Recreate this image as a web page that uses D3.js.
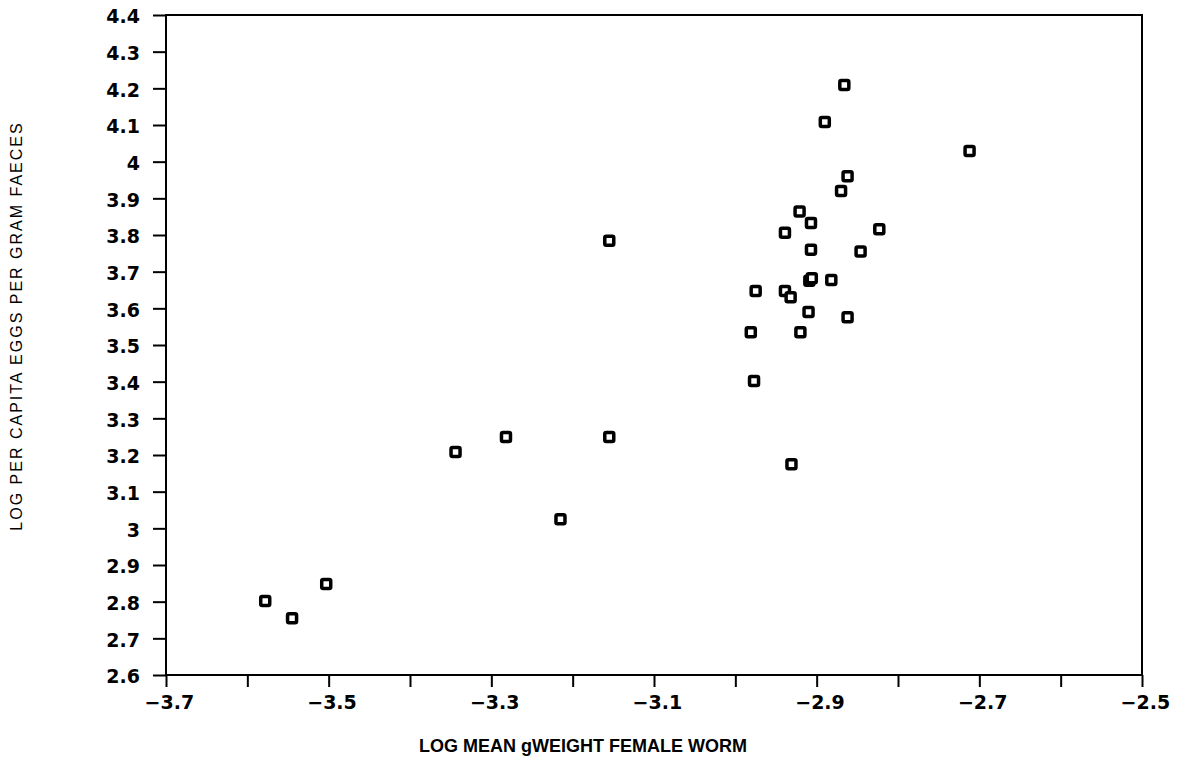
<!DOCTYPE html>
<html>
<head>
<meta charset="utf-8">
<script src="https://cdn.jsdelivr.net/npm/d3@7"></script>
<style>
  body { margin: 0; background: #fff; }
  svg { display: block; }
</style>
</head>
<body>
<div id="chart"></div>
<script>
// log mean female worm weight vs log eggs per gram faeces
const logWeight = [-3.578, -3.545, -3.503, -3.344, -3.282, -3.215, -3.155, -3.155,
  -2.981, -2.977, -2.975, -2.939, -2.932, -2.939, -2.921, -2.907, -2.907, -2.909,
  -2.906, -2.910, -2.920, -2.931, -2.882, -2.870, -2.862, -2.862, -2.846, -2.823,
  -2.890, -2.866, -2.712];
const logEggs = [2.802, 2.755, 2.848, 3.208, 3.249, 3.025, 3.784, 3.249,
  3.535, 3.402, 3.647, 3.647, 3.630, 3.806, 3.864, 3.833, 3.760, 3.675,
  3.682, 3.590, 3.535, 3.175, 3.677, 3.920, 3.960, 3.576, 3.755, 3.816,
  4.108, 4.209, 4.029];
const xDomain = [-3.7, -2.5];
const yDomain = [2.6, 4.4];
const xTitle = "LOG MEAN gWEIGHT FEMALE WORM";
const yTitle = "LOG PER CAPITA EGGS PER GRAM FAECES";

const width = 1185, height = 766;
const margin = {top: 15, right: 43, bottom: 91, left: 166};

const svg = d3.select("#chart").append("svg")
    .attr("width", width)
    .attr("height", height);

const x = d3.scaleLinear().domain(xDomain).range([margin.left, width - margin.right]);
const y = d3.scaleLinear().domain(yDomain).range([height - margin.bottom, margin.top]);

const xTicks = d3.range(0, 13).map(i => +(xDomain[0] + i * 0.1).toFixed(1));
const yTicks = d3.range(0, 19).map(i => +(yDomain[0] + i * 0.1).toFixed(1));

const tickFont = "bold 19px 'DejaVu Sans', sans-serif";

// x axis
const gx = svg.append("g")
    .attr("transform", `translate(0,${height - margin.bottom})`)
    .call(d3.axisBottom(x)
      .tickValues(xTicks)
      .tickSize(12)
      .tickPadding(9)
      .tickFormat((d, i) => i % 2 === 0 ? d3.format(".1f")(d) : ""));
gx.select(".domain").remove();
gx.selectAll(".tick line").attr("stroke", "#000").attr("stroke-width", 2);
gx.selectAll(".tick text").style("font", tickFont).attr("fill", "#000").attr("dx", "0.15em");

// y axis
const gy = svg.append("g")
    .attr("transform", `translate(${margin.left},0)`)
    .call(d3.axisLeft(y)
      .tickValues(yTicks)
      .tickSize(13)
      .tickPadding(13)
      .tickFormat(d => String(d)));
gy.select(".domain").remove();
gy.selectAll(".tick line").attr("stroke", "#000").attr("stroke-width", 2);
gy.selectAll(".tick text").style("font", tickFont).attr("fill", "#000").attr("dy", "0.42em");

// frame
svg.append("rect")
    .attr("x", x(xDomain[0]))
    .attr("y", y(yDomain[1]))
    .attr("width", x(xDomain[1]) - x(xDomain[0]))
    .attr("height", y(yDomain[0]) - y(yDomain[1]))
    .attr("fill", "none")
    .attr("stroke", "#000")
    .attr("stroke-width", 2);

// points
const pts = logWeight.map((v, i) => [v, logEggs[i]]);
svg.append("g")
  .selectAll("rect")
  .data(pts)
  .join("rect")
    .attr("x", d => x(d[0]) - 4.5)
    .attr("y", d => y(d[1]) - 4.5)
    .attr("width", 9)
    .attr("height", 9)
    .attr("rx", 1.5)
    .attr("fill", "#fff")
    .attr("stroke", "#000")
    .attr("stroke-width", 3.5);

// titles
svg.append("text")
    .attr("x", 583)
    .attr("y", 752)
    .attr("text-anchor", "middle")
    .style("font", "bold 18px 'Liberation Sans', Arial, sans-serif")
    .text(xTitle);

svg.append("text")
    .attr("transform", `translate(22,326) rotate(-90)`)
    .attr("text-anchor", "middle")
    .style("font", "16px 'Liberation Sans', Arial, sans-serif")
    .style("letter-spacing", "2px")
    .text(yTitle);
</script>
</body>
</html>
